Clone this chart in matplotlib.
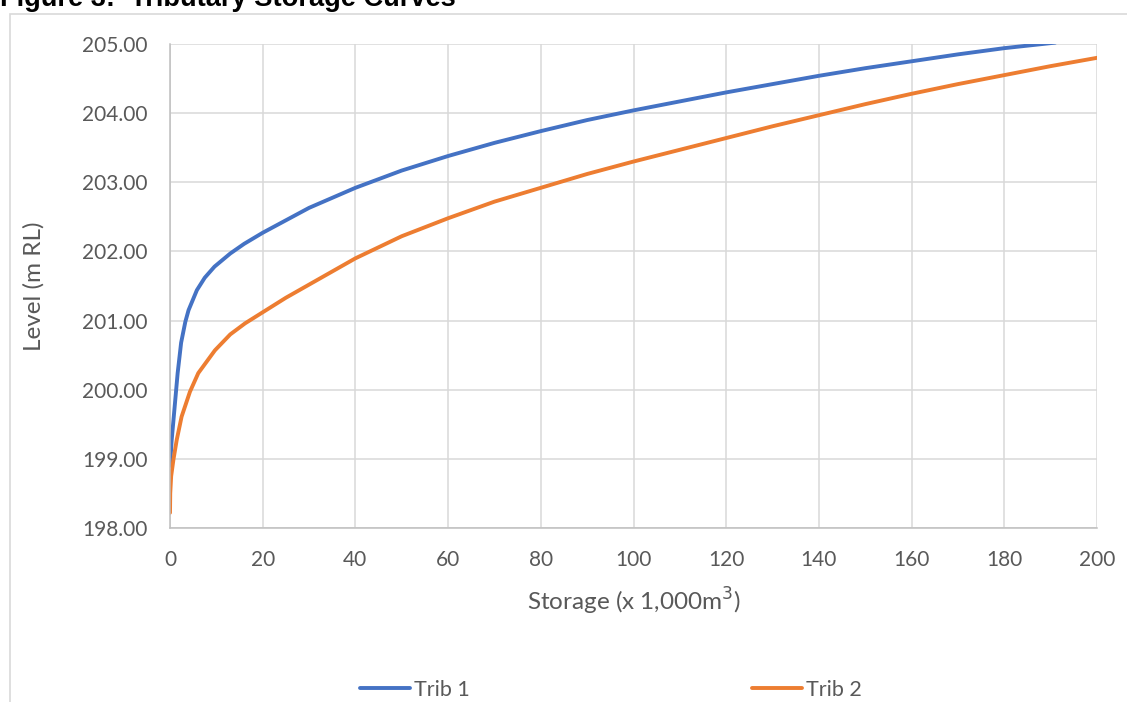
import matplotlib
matplotlib.use("Agg")
import matplotlib.pyplot as plt
from matplotlib.patches import Rectangle

# ---- data ----
trib1_storage = [0, 0.07, 0.36, 1.0, 1.65, 2.4, 3.3, 4.0, 5.8, 7.5, 9.6, 13, 16, 20, 25,
                 30, 40, 50, 60, 70, 80, 90, 100, 110, 120, 130, 140, 150, 160, 170,
                 180, 191]
trib1_level = [198.9, 198.95, 199.27, 199.75, 200.24, 200.68, 200.98, 201.15, 201.44,
               201.62, 201.78, 201.97, 202.11, 202.27, 202.45, 202.63, 202.92, 203.17,
               203.38, 203.57, 203.74, 203.9, 204.04, 204.17, 204.3, 204.42, 204.54,
               204.65, 204.75, 204.85, 204.94, 205.02]

trib2_storage = [0, 0.05, 0.25, 0.72, 1.44, 2.5, 4.3, 6.1, 9.7, 13, 16.2, 20, 25, 30,
                 40, 50, 60, 70, 80, 90, 100, 110, 120, 130, 140, 150, 160, 170, 180,
                 190, 200]
trib2_level = [198.22, 198.5, 198.75, 198.98, 199.27, 199.61, 199.97, 200.24, 200.57,
               200.8, 200.96, 201.12, 201.33, 201.52, 201.9, 202.22, 202.48, 202.72,
               202.92, 203.12, 203.3, 203.47, 203.64, 203.81, 203.97, 204.13, 204.28,
               204.42, 204.55, 204.68, 204.8]

x_ticks = list(range(0, 201, 20))
y_ticks = [198, 199, 200, 201, 202, 203, 204, 205]
series_names = ["Trib 1", "Trib 2"]
series_colors = ["#4472C4", "#ED7D31"]

W, H = 1127, 702
fig = plt.figure(figsize=(W / 100, H / 100), dpi=100)
plt.rcParams['font.family'] = ['Lato', 'DejaVu Sans']

L, R, T, B = 170, 1097, 44, 528
ax = fig.add_axes([L / W, 1 - B / H, (R - L) / W, (B - T) / H])

ax.plot(trib1_storage, trib1_level, color=series_colors[0], lw=2.8,
        label=series_names[0], solid_capstyle='round', solid_joinstyle='round')
ax.plot(trib2_storage, trib2_level, color=series_colors[1], lw=2.8,
        label=series_names[1], solid_capstyle='round', solid_joinstyle='round')

ax.set_xlim(0, 200)
ax.set_ylim(198, 205)
ax.set_xticks(x_ticks)
ax.set_yticks(y_ticks)
ax.set_yticklabels([f"{v:.2f}" for v in y_ticks])
ax.grid(True, color="#D9D9D9", lw=1.1)
ax.set_axisbelow(True)
for s in ["top", "right"]:
    ax.spines[s].set_visible(False)
for s in ["left", "bottom"]:
    ax.spines[s].set_color("#BFBFBF")
    ax.spines[s].set_linewidth(1.1)
ax.tick_params(length=0, labelsize=15, labelcolor="#595959", pad=16)

ax.set_xlabel("Storage (x 1,000m$^{3}$)", fontsize=17.5, color="#595959", labelpad=11)
ax.set_ylabel("Level (m RL)", fontsize=17.5, color="#595959", labelpad=27)

# chart border
fig.patches.append(Rectangle((10 / W, -0.1), 1.2, 1 - 14 / H + 0.1,
                             transform=fig.transFigure, fill=False,
                             edgecolor="#D9D9D9", lw=1.2, clip_on=False))

# title (clipped by top edge as in reference)
fig.text(0, 1 - 6 / H, "Figure 3:  Tributary Storage Curves", fontsize=19.6,
         fontweight="bold", family="Liberation Sans", va="baseline", ha="left",
         color="black")

leg = fig.legend(loc="center", bbox_to_anchor=(611 / W, 1 - 690 / H), ncol=2,
                 frameon=False, fontsize=15.5, handlelength=2.3, handletextpad=0.2,
                 columnspacing=13.1)
for t in leg.get_texts():
    t.set_color("#595959")

fig.savefig("out.png", dpi=100)
